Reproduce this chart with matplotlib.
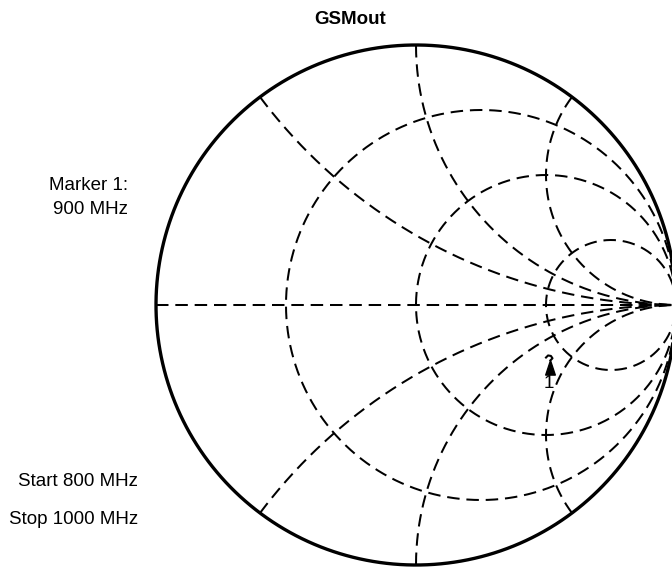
import numpy as np
import matplotlib.pyplot as plt

plt.rcParams['font.family'] = ['Liberation Sans', 'DejaVu Sans']

# Smith chart grid values
r_circles = [1/3, 1.0, 3.0]
x_arcs = [0.5, 1.0, 2.0, -0.5, -1.0, -2.0]

# GSMout trace, 800 MHz .. 1000 MHz (reflection coefficient)
freq_mhz = [800, 850, 900, 950, 1000]
gamma_re = [0.500, 0.508, 0.519, 0.525, 0.517]
gamma_im = [-0.202, -0.194, -0.196, -0.205, -0.213]

# Marker 1 at 900 MHz
marker_re = 0.515
marker_im = -0.212

W, H = 672, 572
cx, cy, rad = 416, 305, 260

fig = plt.figure(figsize=(W / 100, H / 100), dpi=100)
ax = fig.add_axes([0, 0, 1, 1])
ax.set_xlim(-cx / rad, (W - cx) / rad)
ax.set_ylim(-(H - cy) / rad, cy / rad)
ax.set_aspect('equal')
ax.axis('off')

dash = dict(color='black', lw=1.45, linestyle=(0, (6.2, 3.4)))
t = np.linspace(0, 2 * np.pi, 721)

# constant resistance circles
for r in r_circles:
    c = r / (1 + r)
    rr = 1 / (1 + r)
    ax.plot(c + rr * np.cos(t), rr * np.sin(t), **dash)

# constant reactance arcs
rs = np.concatenate([np.linspace(0, 5, 600), np.logspace(np.log10(5), 4, 400)])
for x in x_arcs:
    z = rs + 1j * x
    g = (z - 1) / (z + 1)
    ax.plot(g.real, g.imag, **dash)

# real axis
ax.plot([-1, 1], [0, 0], **dash)

# outer boundary
ax.plot(np.cos(t), np.sin(t), color='black', lw=2.4)

# trace and marker
ax.plot(gamma_re, gamma_im, color='black', lw=1.5)
tri = [(0, 0), (-0.33, -1), (0.33, -1), (0, 0)]
ax.plot(marker_re, marker_im, marker=tri, markersize=21, color='black', linestyle='none')
ax.annotate('1', (marker_re, marker_im), xytext=(-1, -17), textcoords='offset points',
            ha='center', va='center', fontsize=13.5)

fs = 13.5
fig.text(350 / W, 1 - 19 / H, 'GSMout', ha='center', va='center', fontsize=fs, fontweight='bold')
fig.text(128 / W, 1 - 185 / H, 'Marker 1:', ha='right', va='center', fontsize=fs)
fig.text(128 / W, 1 - 210 / H, '900 MHz', ha='right', va='center', fontsize=fs)
fig.text(138 / W, 1 - 482 / H, 'Start 800 MHz', ha='right', va='center', fontsize=fs)
fig.text(138 / W, 1 - 519 / H, 'Stop 1000 MHz', ha='right', va='center', fontsize=fs)

fig.savefig('out.png', dpi=100)
